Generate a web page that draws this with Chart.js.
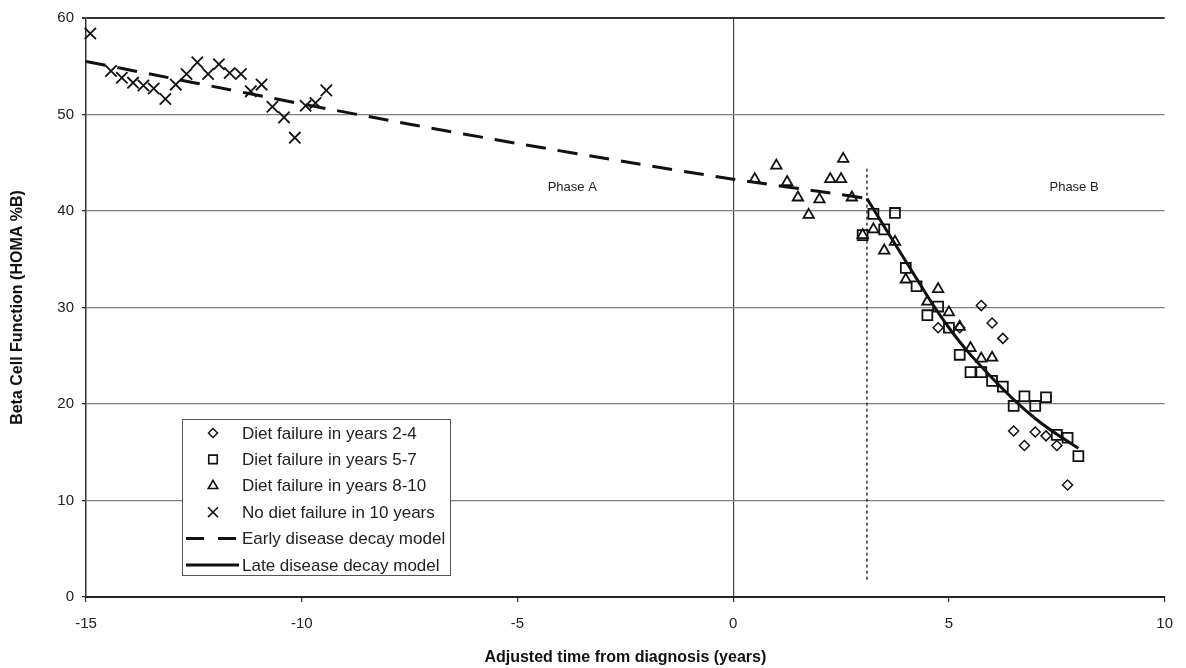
<!DOCTYPE html>
<html lang="en">
<head>
<meta charset="UTF-8" />
<title>Beta cell function decay</title>
<script src="https://cdn.jsdelivr.net/npm/chart.js"></script>
<style>
  body { margin: 0; background: #fff; }
  #wrap { width: 1186px; height: 668px; }
</style>
</head>
<body>
<div id="wrap"><canvas id="betaChart" width="1186" height="668"></canvas></div>
<script>
// values
const xTicks = [-15, -10, -5, 0, 5, 10];
const yTicks = [0, 10, 20, 30, 40, 50, 60];

// Diet failure in years 2-4 (diamonds)
const dietEarlyX = [4.75, 5.25, 5.75, 6.0, 6.25, 6.5, 6.75, 7.0, 7.25, 7.5, 7.75];
const dietEarlyY = [27.9, 27.9, 30.2, 28.4, 26.8, 17.2, 15.7, 17.1, 16.7, 15.7, 11.6];

// Diet failure in years 5-7 (squares)
const dietMidX = [3.0, 3.25, 3.5, 3.75, 4.0, 4.25, 4.5, 4.75, 5.0, 5.25, 5.5, 5.75, 6.0, 6.25, 6.5, 6.75, 7.0, 7.25, 7.5, 7.75, 8.0];
const dietMidY = [37.5, 39.7, 38.1, 39.8, 34.1, 32.2, 29.2, 30.1, 27.9, 25.1, 23.3, 23.3, 22.4, 21.8, 19.8, 20.8, 19.8, 20.7, 16.8, 16.5, 14.6];

// Diet failure in years 8-10 (triangles)
const dietLateX = [0.5, 1.0, 1.25, 1.5, 1.75, 2.0, 2.25, 2.5, 2.55, 2.75, 3.0, 3.25, 3.5, 3.75, 4.0, 4.5, 4.75, 5.0, 5.25, 5.5, 5.75, 6.0];
const dietLateY = [43.3, 44.7, 43.0, 41.4, 39.6, 41.2, 43.3, 43.3, 45.4, 41.4, 37.5, 38.1, 35.9, 36.8, 32.9, 30.6, 31.9, 29.5, 28.0, 25.8, 24.7, 24.8];

// No diet failure in 10 years (crosses)
const noFailX = [-14.9, -14.42, -14.17, -13.91, -13.67, -13.43, -13.16, -12.92, -12.67, -12.42, -12.17, -11.92, -11.67, -11.41, -11.18, -10.93, -10.68, -10.41, -10.16, -9.91, -9.68, -9.43];
const noFailY = [58.4, 54.5, 53.8, 53.3, 53.0, 52.7, 51.6, 53.1, 54.2, 55.4, 54.2, 55.2, 54.3, 54.2, 52.4, 53.1, 50.8, 49.7, 47.6, 50.9, 51.2, 52.5];

// model curves
const earlyModelX = [-15, -12.5, -10, -7.5, -5, -2.5, 0, 2.5, 3.1];
const earlyModelY = [55.5, 53.3, 51.1, 49.0, 47.0, 45.1, 43.3, 41.7, 41.3];
const lateModelX = [3.1, 4, 5, 6, 7, 8];
const lateModelY = [41.3, 34.8, 27.9, 22.7, 18.5, 15.4];

// phase split marker
const splitX = [3.1, 3.1];
const splitY = [1.8, 44.5];

const legendLabels = [
  'Diet failure in years 2-4',
  'Diet failure in years 5-7',
  'Diet failure in years 8-10',
  'No diet failure in 10 years',
  'Early disease decay model',
  'Late disease decay model'
];
const phaseLabels = ['Phase A', 'Phase B'];

const FONT = "'Liberation Sans', Arial, sans-serif";
const zip = (xs, ys) => xs.map((x, i) => ({ x: x, y: ys[i] }));

const markerStyles = [
  { pointStyle: 'rectRot', radius: 5, borderWidth: 1.5 },
  { pointStyle: 'rect', radius: 7, borderWidth: 1.8 },
  { pointStyle: 'triangle', radius: 6, borderWidth: 1.8 },
  { pointStyle: 'crossRot', radius: 8, borderWidth: 1.8 }
];

function markerSet(label, xs, ys, st) {
  return {
    label: label,
    data: zip(xs, ys),
    showLine: false,
    clip: false,
    pointStyle: st.pointStyle,
    pointRadius: st.radius,
    pointBorderWidth: st.borderWidth,
    pointBorderColor: '#111',
    pointBackgroundColor: 'rgba(0,0,0,0)',
    order: 2
  };
}

// legend box + phase labels
const decorations = {
  id: 'decorations',
  afterDraw(chart) {
    const ctx = chart.ctx;
    const xs = chart.scales.x, ys = chart.scales.y;
    ctx.save();

    ctx.fillStyle = '#222';
    ctx.font = '13px ' + FONT;
    ctx.textAlign = 'center';
    ctx.textBaseline = 'middle';
    ctx.fillText(phaseLabels[0], xs.getPixelForValue(-3.73), ys.getPixelForValue(42.4));
    ctx.fillText(phaseLabels[1], xs.getPixelForValue(7.9), ys.getPixelForValue(42.4));

    const left = 182, top = 419, w = 268, h = 156;
    ctx.fillStyle = '#fff';
    ctx.fillRect(left, top, w, h);
    ctx.strokeStyle = '#555';
    ctx.lineWidth = 1;
    ctx.strokeRect(left + 0.5, top + 0.5, w, h);

    ctx.font = '17px ' + FONT;
    ctx.textAlign = 'left';
    const legendMarkers = [
      { pointStyle: 'rectRot', radius: 4.5, borderWidth: 1.5 },
      { pointStyle: 'rect', radius: 6, borderWidth: 1.6 },
      { pointStyle: 'triangle', radius: 5.5, borderWidth: 1.6 },
      { pointStyle: 'crossRot', radius: 7, borderWidth: 1.6 }
    ];
    legendLabels.forEach((txt, i) => {
      const cy = 433 + i * 26.4;
      ctx.strokeStyle = '#111';
      ctx.fillStyle = 'rgba(0,0,0,0)';
      if (i < 4) {
        const m = legendMarkers[i];
        ctx.lineWidth = m.borderWidth;
        Chart.helpers.drawPoint(ctx, { pointStyle: m.pointStyle, radius: m.radius, rotation: 0, borderWidth: m.borderWidth }, 213, cy);
      } else {
        ctx.lineWidth = 3;
        ctx.setLineDash(i === 4 ? [18, 14] : []);
        ctx.beginPath();
        ctx.moveTo(186, cy);
        ctx.lineTo(239, cy);
        ctx.stroke();
        ctx.setLineDash([]);
      }
      ctx.fillStyle = '#222';
      ctx.fillText(txt, 242, cy + 1);
    });
    ctx.restore();
  }
};

const ctx = document.getElementById('betaChart').getContext('2d');
const betaChart = new Chart(ctx, {
  type: 'scatter',
  data: {
    datasets: [
      markerSet(legendLabels[0], dietEarlyX, dietEarlyY, markerStyles[0]),
      markerSet(legendLabels[1], dietMidX, dietMidY, markerStyles[1]),
      markerSet(legendLabels[2], dietLateX, dietLateY, markerStyles[2]),
      markerSet(legendLabels[3], noFailX, noFailY, markerStyles[3]),
      {
        label: legendLabels[4],
        data: zip(earlyModelX, earlyModelY),
        showLine: true,
        borderColor: '#111',
        borderWidth: 3,
        borderDash: [20, 12],
        pointRadius: 0,
        tension: 0.3,
        order: 1
      },
      {
        label: legendLabels[5],
        data: zip(lateModelX, lateModelY),
        showLine: true,
        borderColor: '#111',
        borderWidth: 3,
        pointRadius: 0,
        tension: 0.4,
        order: 1
      },
      {
        label: 'split',
        data: zip(splitX, splitY),
        showLine: true,
        borderColor: '#333',
        borderWidth: 1.5,
        borderDash: [3, 3],
        pointRadius: 0,
        order: 3
      }
    ]
  },
  options: {
    responsive: false,
    animation: false,
    events: [],
    layout: { padding: { left: 0, right: 17, top: 18, bottom: 0 } },
    plugins: {
      legend: { display: false },
      tooltip: { enabled: false }
    },
    scales: {
      x: {
        type: 'linear',
        min: -15,
        max: 10,
        afterBuildTicks: s => { s.ticks = xTicks.map(v => ({ value: v })); },
        afterFit: s => { s.height = 71; },
        ticks: { color: '#222', font: { family: FONT, size: 15 }, padding: 13, maxRotation: 0 },
        grid: {
          color: c => (c.tick && c.tick.value === 0 ? '#444' : 'rgba(0,0,0,0)'),
          lineWidth: 1.2,
          tickColor: '#333',
          tickLength: 5
        },
        border: { color: '#222', width: 2 },
        title: {
          display: true,
          text: 'Adjusted time from diagnosis (years)',
          color: '#111',
          font: { family: FONT, size: 16, weight: 'bold' },
          padding: { top: 2, bottom: 1 }
        }
      },
      y: {
        min: 0,
        max: 60,
        afterBuildTicks: s => { s.ticks = yTicks.map(v => ({ value: v })); },
        afterFit: s => { s.width = 86; },
        ticks: { color: '#222', font: { family: FONT, size: 15 }, padding: 8 },
        grid: {
          color: c => (c.tick && c.tick.value === 60 ? '#333' : '#808080'),
          lineWidth: c => (c.tick && c.tick.value === 60 ? 2 : 1.3),
          tickColor: '#333',
          tickLength: 4
        },
        border: { color: '#333', width: 1.5 },
        title: {
          display: true,
          text: 'Beta Cell Function (HOMA %B)',
          color: '#111',
          font: { family: FONT, size: 16, weight: 'bold' },
          padding: { top: 8, bottom: 4 }
        }
      }
    }
  },
  plugins: [decorations]
});
</script>
</body>
</html>
